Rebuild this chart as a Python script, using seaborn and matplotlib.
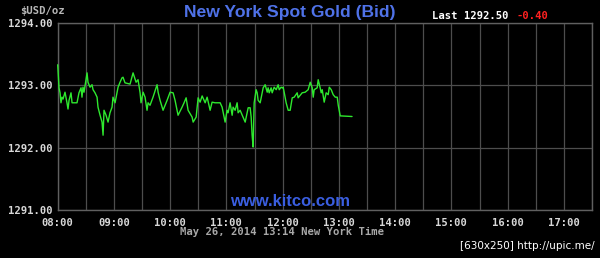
import matplotlib
matplotlib.use("Agg")
import matplotlib.pyplot as plt
import seaborn as sns
import pandas as pd
import numpy as np

# minutes after 08:00 (New York time)
minutes = [0, 1.4, 2.5, 3.5, 4.6, 5.7, 7.8, 9.9, 11.0, 12.1, 14.2, 15.3, 17.4, 20.6, 22.7,
           24.9, 25.9, 27.0, 28.1, 31.3, 32.3, 34.5, 36.6, 37.7, 39.8, 42.0, 43.0, 45.2, 47.3,
           48.4, 49.4, 51.6, 53.7, 55.8, 58.0, 59.0, 61.2, 63.3, 64.4, 66.5, 68.6, 69.7, 71.8,
           77.2, 80.4, 83.6, 85.7, 87.9, 88.9, 91.1, 93.2, 95.3, 96.4, 98.5, 101.7, 106.0,
           107.1, 109.2, 112.4, 116.7, 119.9, 123.1, 125.2, 128.4, 132.7, 134.8, 137.0, 139.1,
           143.4, 144.5, 147.7, 149.8, 151.9, 154.1, 157.3, 159.4, 162.6, 164.7, 167.9, 173.3,
           175.4, 178.6, 180.7, 181.8, 183.9, 186.1, 187.1, 189.3, 191.4, 192.5, 194.6, 197.8,
           200.0, 202.1, 203.2, 205.3, 206.4, 207.4, 208.5, 209.6, 211.7, 212.8, 213.8, 216.0,
           218.1, 219.2, 221.3, 223.5, 224.5, 225.6, 227.7, 228.8, 230.9, 233.1, 235.2, 236.3,
           238.4, 239.5, 240.5, 241.6, 243.7, 245.9, 248.0, 250.2, 252.3, 255.5, 256.5, 260.8,
           264.0, 267.2, 269.4, 271.5, 272.6, 273.6, 276.8, 277.9, 280.0, 281.1, 282.2, 284.3,
           286.4, 288.6, 289.7, 291.8, 293.9, 296.1, 298.2, 299.3, 301.4, 314.0]
bid = [1293.33, 1292.96, 1292.88, 1292.72, 1292.81, 1292.78, 1292.89, 1292.72, 1292.62,
       1292.76, 1292.88, 1292.72, 1292.72, 1292.72, 1292.88, 1292.96, 1292.81, 1292.97,
       1292.89, 1293.20, 1293.05, 1292.97, 1293.01, 1292.93, 1292.88, 1292.81, 1292.65,
       1292.52, 1292.41, 1292.20, 1292.60, 1292.52, 1292.41, 1292.56, 1292.65, 1292.81,
       1292.72, 1292.88, 1292.97, 1293.05, 1293.12, 1293.13, 1293.04, 1293.02, 1293.20,
       1293.05, 1293.09, 1292.88, 1292.72, 1292.89, 1292.81, 1292.60, 1292.72, 1292.68,
       1292.81, 1293.01, 1292.89, 1292.76, 1292.60, 1292.76, 1292.89, 1292.88, 1292.76,
       1292.52, 1292.65, 1292.72, 1292.80, 1292.60, 1292.49, 1292.41, 1292.49, 1292.80,
       1292.73, 1292.83, 1292.72, 1292.81, 1292.60, 1292.73, 1292.72, 1292.72, 1292.65,
       1292.41, 1292.60, 1292.56, 1292.72, 1292.52, 1292.65, 1292.60, 1292.72, 1292.56,
       1292.60, 1292.49, 1292.41, 1292.56, 1292.64, 1292.64, 1292.49, 1292.20, 1292.01,
       1292.72, 1292.93, 1292.88, 1292.76, 1292.72, 1292.88, 1292.96, 1293.01, 1292.89,
       1292.96, 1292.88, 1292.96, 1292.88, 1292.97, 1292.93, 1293.01, 1292.93, 1292.97,
       1292.96, 1292.97, 1292.89, 1292.72, 1292.60, 1292.60, 1292.80, 1292.81, 1292.88,
       1292.80, 1292.88, 1292.89, 1292.93, 1293.05, 1292.96, 1292.81, 1292.93, 1292.96,
       1293.09, 1292.96, 1292.88, 1292.93, 1292.73, 1292.88, 1292.85, 1292.97, 1292.93,
       1292.85, 1292.81, 1292.81, 1292.68, 1292.51, 1292.50]

hour_labels = ["08:00", "09:00", "10:00", "11:00", "12:00", "13:00", "14:00", "15:00",
               "16:00", "17:00"]
y_ticks = [1291.00, 1292.00, 1293.00, 1294.00]
title = "New York Spot Gold (Bid)"
last_text = "Last 1292.50"
change_text = "-0.40"
date_text = "May 26, 2014 13:14 New York Time"

df = pd.DataFrame({"t": np.array(minutes) / 60.0, "bid": bid})

sns.set_style("dark")
plt.rcParams["font.family"] = ["DejaVu Sans Mono", "DejaVu Sans"]

fig = plt.figure(figsize=(6.0, 2.58), dpi=100, facecolor="black")
ax = fig.add_axes([57.7 / 600, 1 - 210 / 258, (592 - 57.7) / 600, (210 - 23) / 258])
ax.set_facecolor("black")

sns.lineplot(data=df, x="t", y="bid", ax=ax, color="#2ee82e", linewidth=1.0, zorder=3,
             clip_on=False)

ax.set_xlim(0, 9.5)
ax.set_ylim(1291, 1294)
ax.set_xticks(np.arange(0, 9.51, 0.5), minor=False)
ax.set_xticklabels([hour_labels[i // 2] if i % 2 == 0 and i // 2 < len(hour_labels) else ""
                    for i in range(20)])
ax.set_yticks(y_ticks)
ax.set_yticklabels([f"{v:.2f}" for v in y_ticks])
ax.grid(True, color="#4d4d4d", linewidth=0.9)
ax.set_axisbelow(True)
for s in ax.spines.values():
    s.set_visible(True)
    s.set_color("#606060")
    s.set_linewidth(1.0)
ax.tick_params(axis="both", length=0, colors="#d8d8d8", labelsize=7.6)
ax.tick_params(axis="x", pad=6)
ax.tick_params(axis="y", pad=4)
for lab in ax.get_xticklabels() + ax.get_yticklabels():
    lab.set_fontweight("bold")
ax.set_xlabel("")
ax.set_ylabel("")

fig.text(42 / 600, 1 - 11 / 258, "$USD/oz", color="#b8b8b8", fontsize=7.6, ha="center",
         va="center", fontweight="bold")
fig.text(290 / 600, 1 - 12 / 258, title, color="#4f72e8", fontsize=12.6, ha="center",
         va="center", fontweight="bold", family="Liberation Sans")
fig.text(508 / 600, 1 - 16 / 258, last_text, color="white", fontsize=7.6, ha="right",
         va="center", fontweight="bold")
fig.text(517 / 600, 1 - 16 / 258, change_text, color="#ff2020", fontsize=7.6, ha="left",
         va="center", fontweight="bold")
fig.text(282 / 600, 1 - 232 / 258, date_text, color="#a8a8a8", fontsize=7.6, ha="center",
         va="center", fontweight="bold")
fig.text(290 / 600, 1 - 201 / 258, "www.kitco.com", color="#3a5ee0", fontsize=12,
         ha="center", va="center", fontweight="bold", family="Liberation Sans")
fig.text(595 / 600, 1 - 246 / 258, "[630x250] http://upic.me/", color="white", fontsize=7.5,
         ha="right", va="center", family="DejaVu Sans")

fig.savefig("out.png", dpi=100, facecolor="black")
